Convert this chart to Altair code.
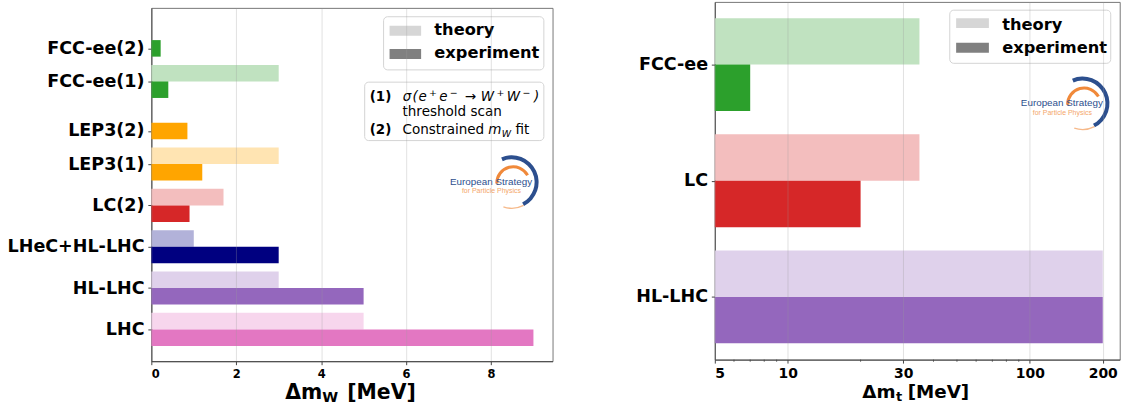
import altair as alt
import pandas as pd

# ---------------- W-boson mass precision (MeV) ----------------
w_labels = ["LHC", "HL-LHC", "LHeC+HL-LHC", "LC(2)", "LEP3(1)", "LEP3(2)", "FCC-ee(1)", "FCC-ee(2)"]
w_pos = [0, 1, 2, 3, 4, 4.8, 6, 6.8]
w_theory = [5, 3, 1, 1.7, 3, None, 3, None]
w_experiment = [9, 5, 3, 0.9, 1.2, 0.85, 0.4, 0.22]
w_colors = ["#e377c2", "#9467bd", "#000080", "#d62728", "#ffa500", "#ffa500", "#2ca02c", "#2ca02c"]
w_ticks = [0, 2, 4, 6, 8]

# ---------------- top-quark mass precision (MeV) ----------------
t_labels = ["HL-LHC", "LC", "FCC-ee"]
t_pos = [0, 1, 2]
t_theory = [200, 35, 35]
t_experiment = [200, 20, 7]
t_colors = ["#9467bd", "#d62728", "#2ca02c"]
t_ticks = [5, 10, 30, 100, 200]
t_minor = [6, 7, 8, 9, 20, 40, 50, 60, 70, 80, 90]

BAR = 0.4
FONT = "DejaVu Sans"
LABEL_SIZE = 17.6


def tint(hex_color, alpha=0.3):
    r, g, b = (int(hex_color[i:i + 2], 16) for i in (1, 3, 5))
    mix = lambda c: round(alpha * c + (1 - alpha) * 255)
    return "#{:02x}{:02x}{:02x}".format(mix(r), mix(g), mix(b))


def bar_table(labels, pos, theory, experiment, colors, base):
    rows = []
    for lab, p, th, ex, col in zip(labels, pos, theory, experiment, colors):
        if th is None:
            rows.append(dict(label=lab, kind="experiment", value=ex, lo=p - BAR / 2, hi=p + BAR / 2, color=col))
        else:
            rows.append(dict(label=lab, kind="theory", value=th, lo=p, hi=p + BAR, color=tint(col)))
            rows.append(dict(label=lab, kind="experiment", value=ex, lo=p - BAR, hi=p, color=col))
    df = pd.DataFrame(rows)
    df["base"] = base
    return df


def label_expr(pos, labels):
    expr = "''"
    for p, l in zip(pos, labels):
        expr = f"datum.value == {p} ? '{l}' : " + expr
    return expr


_one = pd.DataFrame({"k": [0]})


class Frame:
    """Places decorations in page pixels relative to a panel's plot origin."""

    def __init__(self, ox, oy):
        self.ox, self.oy = ox, oy

    def text(self, s, x, y, size, weight="normal", style="normal", color="black",
             align="left", font=FONT):
        return alt.Chart(_one).mark_text(
            text=s, font=font, fontSize=size, fontWeight=weight, fontStyle=style,
            color=color, align=align, baseline="alphabetic",
        ).encode(x=alt.value(x - self.ox), y=alt.value(y - self.oy))

    def rect(self, x1, x2, y1, y2, fill, stroke=None, radius=0, opacity=1.0):
        kw = dict(fill=fill, cornerRadius=radius, fillOpacity=opacity)
        if stroke:
            kw.update(stroke=stroke, strokeWidth=1)
        return alt.Chart(_one).mark_rect(**kw).encode(
            x=alt.value(x1 - self.ox), x2=alt.value(x2 - self.ox),
            y=alt.value(y1 - self.oy), y2=alt.value(y2 - self.oy))

    def arc(self, cx, cy, r1, r2, t1, t2, color):
        return alt.Chart(_one).mark_arc(color=color).encode(
            x=alt.value(cx - self.ox), y=alt.value(cy - self.oy),
            radius=alt.value(r2), radius2=alt.value(r1),
            theta=alt.value(t1), theta2=alt.value(t2))

    def legend(self, x1, x2, y1, y2, sw_x, sw_w, rows, text_x):
        layers = [self.rect(x1, x2, y1, y2, "white", stroke="#d4d4d4", radius=4, opacity=0.85)]
        for name, fill, top, base in rows:
            layers.append(self.rect(sw_x, sw_x + sw_w, top, top + 10, fill))
            layers.append(self.text(name, text_x, base, 16.3, weight="bold"))
        return layers

    def logo(self, x, y):
        cx, cy = x + 62, y - 3
        return [
            self.arc(cx, cy, 23, 27, 5.88, 8.95, "#2c4f8e"),
            self.arc(cx, cy, 25.5, 26.8, 8.95, 9.75, "#f6b98a"),
            self.arc(cx + 1.5, cy + 1, 15, 18, 4.7, 7.35, "#f0893a"),
            self.text("European Strategy", x, y, 9.9, font="Liberation Sans", color="#2c4f8e"),
            self.text("for Particle Physics", x + 12, y + 8.3, 7, font="Liberation Sans", color="#f4a66a"),
        ]


def axis_style(**kw):
    base = dict(
        title=None, tickSize=3.5, tickColor="#444", domainColor="#444",
        labelFont=FONT, labelFontWeight="bold", labelColor="black",
    )
    base.update(kw)
    return alt.Axis(**base)


GRID = dict(grid=True, gridColor="#9a9a9a", gridOpacity=0.3, gridWidth=1, zindex=1)

# ---------------- left panel: Δm_W ----------------
OXW, OYW = 150.7, 4.4
fw = Frame(OXW, OYW)
w_df = bar_table(w_labels, w_pos, w_theory, w_experiment, w_colors, 0)

w_bars = alt.Chart(w_df).mark_bar().encode(
    x=alt.X("base:Q", scale=alt.Scale(domain=[0, 9.45], nice=False, zero=False),
            axis=axis_style(values=w_ticks, labelFontSize=11.5, labelPadding=3.5, **GRID)),
    x2="value:Q",
    y=alt.Y("lo:Q", scale=alt.Scale(domain=[-0.77, 7.78], nice=False, zero=False),
            axis=axis_style(values=w_pos, labelExpr=label_expr(w_pos, w_labels), grid=False,
                            labelFontSize=LABEL_SIZE, labelPadding=3.8, minExtent=150.7, maxExtent=150.7)),
    y2="hi:Q",
    color=alt.Color("color:N", scale=None),
)

# σ(e+e- → W+W-) set piece by piece, superscripts raised and reduced
SUP_Y, ROW1 = 92.5, 98
sigma_row = [
    ("σ", 403.3, ROW1, 13.5), ("(", 413.1, ROW1, 13.5), ("e", 419.1, ROW1, 13.5),
    ("+", 429.7, SUP_Y, 9.5), ("e", 439.9, ROW1, 13.5), ("−", 450.5, SUP_Y, 9.5),
    ("→", 465.5, ROW1, 13.5), ("W", 481.5, ROW1, 13.5), ("+", 497.4, SUP_Y, 9.5),
    ("W", 507.6, ROW1, 13.5), ("−", 523.6, SUP_Y, 9.5), (")", 535.0, ROW1, 13.5),
]

w_layers = [w_bars]
w_layers += fw.legend(384, 545, 13.3, 66.7, 390, 31.7,
                      [("theory", "#d6d6d6", 22.3, 31.3), ("experiment", "#808080", 45.7, 55.2)], 435)
w_layers += [
    fw.rect(365, 545, 79, 137.7, "white", stroke="#d4d4d4", radius=4, opacity=0.85),
    fw.text("(1)", 370, ROW1, 13.5, weight="bold"),
    fw.text("threshold scan", 403, 113, 13.6),
    fw.text("(2)", 370, 131.5, 13.5, weight="bold"),
    fw.text("Constrained", 403, 131.5, 13.6),
    fw.text("m", 489.2, 131.5, 13.6, style="italic"),
    fw.text("W", 502.6, 134.5, 9.5, style="italic"),
    fw.text("fit", 516.5, 131.5, 13.6),
]
w_layers += [fw.text(s, x, y, size, style="italic") for s, x, y, size in sigma_row]
w_layers += fw.logo(450.7, 182.5)
w_layers += [
    fw.text("Δm", 322.5, 397.3, 20.5, weight="bold", align="right"),
    fw.text("W", 322.5, 400.6, 14.5, weight="bold"),
    fw.text("[MeV]", 347.5, 397.3, 20.5, weight="bold"),
]

left = alt.layer(*w_layers).properties(width=403, height=354.9)

spacer = alt.Chart(_one).mark_rect(opacity=0).encode(
    x=alt.value(0), x2=alt.value(1), y=alt.value(0), y2=alt.value(1)
).properties(width=1, height=4.4, view=alt.ViewBackground(stroke="transparent"))

# ---------------- right panel: Δm_t (log scale) ----------------
OXT, OYT = 714.3, 0
ft = Frame(OXT, OYT)
t_df = bar_table(t_labels, t_pos, t_theory, t_experiment, t_colors, 5)
t_scale = alt.Scale(type="log", domain=[5, 235], nice=False)
t_xaxis = axis_style(values=t_ticks, format="d", labelFontSize=14, labelPadding=3, **GRID)

t_bars = alt.Chart(t_df).mark_bar().encode(
    x=alt.X("base:Q", scale=t_scale, axis=t_xaxis),
    x2="value:Q",
    y=alt.Y("lo:Q", scale=alt.Scale(domain=[-0.54, 2.54], nice=False, zero=False),
            axis=axis_style(values=t_pos, labelExpr=label_expr(t_pos, t_labels), grid=False,
                            labelFontSize=LABEL_SIZE, labelPadding=3.8, minExtent=160.6, maxExtent=160.6)),
    y2="hi:Q",
    color=alt.Color("color:N", scale=None),
)

t_minor_ticks = alt.Chart(pd.DataFrame({"v": t_minor})).mark_rule(color="#444", strokeWidth=0.8).encode(
    x=alt.X("v:Q", scale=t_scale, axis=t_xaxis),
    y=alt.value(359.3),
    y2=alt.value(361.5),
)

t_layers = [t_bars, t_minor_ticks]
t_layers += ft.legend(950.3, 1112, 8.3, 61.7, 956.7, 32.9,
                      [("theory", "#d6d6d6", 16.3, 28.2), ("experiment", "#808080", 41, 51.8)], 1003)
t_layers += ft.logo(1021.7, 105)
t_layers += [
    ft.text("Δm", 895.8, 398.3, 18.4, weight="bold", align="right"),
    ft.text("t", 896.3, 401, 13, weight="bold"),
    ft.text("[MeV]", 908, 398.3, 18.4, weight="bold"),
]

right = alt.layer(*t_layers).properties(width=406.7, height=359.3)

chart = alt.hconcat(
    alt.vconcat(spacer, left, spacing=0),
    right,
    spacing=0,
).properties(padding=0).configure_view(stroke="#777", strokeWidth=1)

chart.save("out.html", embed_options={"renderer": "svg", "actions": False})
